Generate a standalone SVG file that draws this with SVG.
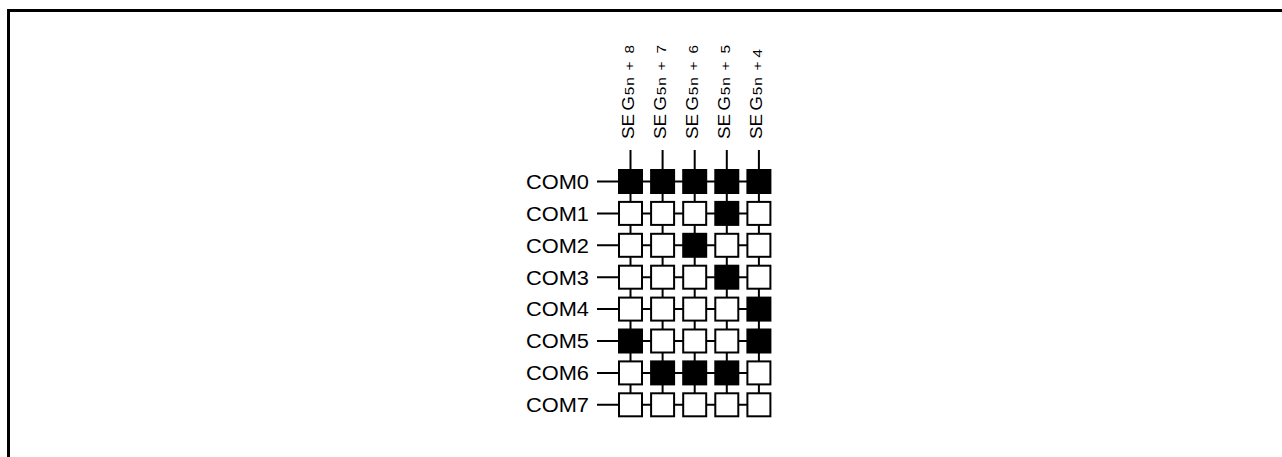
<svg xmlns="http://www.w3.org/2000/svg" width="1282" height="457" viewBox="0 0 1282 457">
<style>
.frame{fill:none;stroke:#000;stroke-width:3}
.wire{stroke:#000;stroke-width:2;fill:none}
.on{fill:#000;stroke:#000;stroke-width:2}
.off{fill:#fff;stroke:#000;stroke-width:2}
.com{font-family:"Liberation Sans",Arial,sans-serif;font-size:20px;fill:#000}
.seg{font-family:"Liberation Sans",Arial,sans-serif;font-size:16px;fill:#000}
.sub{font-size:13px}
</style>
<rect width="1282" height="457" fill="#fff"/>
<polyline class="frame" points="8.5,457 8.5,10.5 1282,10.5"/>
<g id="connectors">
<line class="wire" x1="630.5" y1="150" x2="630.5" y2="405"/>
<line class="wire" x1="662.6" y1="150" x2="662.6" y2="405"/>
<line class="wire" x1="694.7" y1="150" x2="694.7" y2="405"/>
<line class="wire" x1="726.8" y1="150" x2="726.8" y2="405"/>
<line class="wire" x1="758.9" y1="150" x2="758.9" y2="405"/>
<line class="wire" x1="597" y1="181.5" x2="759" y2="181.5"/>
<line class="wire" x1="597" y1="213.4" x2="759" y2="213.4"/>
<line class="wire" x1="597" y1="245.3" x2="759" y2="245.3"/>
<line class="wire" x1="597" y1="277.2" x2="759" y2="277.2"/>
<line class="wire" x1="597" y1="309.1" x2="759" y2="309.1"/>
<line class="wire" x1="597" y1="341" x2="759" y2="341"/>
<line class="wire" x1="597" y1="372.9" x2="759" y2="372.9"/>
<line class="wire" x1="597" y1="404.8" x2="759" y2="404.8"/>
</g>
<g id="seg-labels">
<g id="seg8"><text class="seg" transform="translate(633.5,139) rotate(-90) scale(1.18,1)"><tspan x="0">SE</tspan><tspan x="24">G</tspan><tspan class="sub" x="37" letter-spacing="1">5n </tspan><tspan class="sub" x="58">+ </tspan><tspan class="sub" x="72.5">8</tspan></text></g>
<g id="seg7"><text class="seg" transform="translate(665.6,139) rotate(-90) scale(1.18,1)"><tspan x="0">SE</tspan><tspan x="24">G</tspan><tspan class="sub" x="37" letter-spacing="1">5n </tspan><tspan class="sub" x="58">+ </tspan><tspan class="sub" x="72.5">7</tspan></text></g>
<g id="seg6"><text class="seg" transform="translate(697.7,139) rotate(-90) scale(1.18,1)"><tspan x="0">SE</tspan><tspan x="24">G</tspan><tspan class="sub" x="37" letter-spacing="1">5n </tspan><tspan class="sub" x="58">+ </tspan><tspan class="sub" x="72.5">6</tspan></text></g>
<g id="seg5"><text class="seg" transform="translate(729.8,139) rotate(-90) scale(1.18,1)"><tspan x="0">SE</tspan><tspan x="24">G</tspan><tspan class="sub" x="37" letter-spacing="1">5n </tspan><tspan class="sub" x="58">+ </tspan><tspan class="sub" x="72.5">5</tspan></text></g>
<g id="seg4"><text class="seg" transform="translate(761.9,139) rotate(-90) scale(1.18,1)"><tspan x="0">SE</tspan><tspan x="24">G</tspan><tspan class="sub" x="37" letter-spacing="1">5n </tspan><tspan class="sub" x="58">+</tspan><tspan class="sub" x="69">4</tspan></text></g>
</g>
<g id="com-labels">
<g id="com0"><text class="com" x="526" y="188.8" textLength="63" lengthAdjust="spacingAndGlyphs">COM0</text></g>
<g id="com1"><text class="com" x="526" y="220.7" textLength="63" lengthAdjust="spacingAndGlyphs">COM1</text></g>
<g id="com2"><text class="com" x="526" y="252.6" textLength="63" lengthAdjust="spacingAndGlyphs">COM2</text></g>
<g id="com3"><text class="com" x="526" y="284.5" textLength="63" lengthAdjust="spacingAndGlyphs">COM3</text></g>
<g id="com4"><text class="com" x="526" y="316.4" textLength="63" lengthAdjust="spacingAndGlyphs">COM4</text></g>
<g id="com5"><text class="com" x="526" y="348.3" textLength="63" lengthAdjust="spacingAndGlyphs">COM5</text></g>
<g id="com6"><text class="com" x="526" y="380.2" textLength="63" lengthAdjust="spacingAndGlyphs">COM6</text></g>
<g id="com7"><text class="com" x="526" y="412.1" textLength="63" lengthAdjust="spacingAndGlyphs">COM7</text></g>
</g>
<g id="cells">
<g id="r0">
<rect id="c0-0" class="on" x="619" y="170" width="23" height="23"/>
<rect id="c0-1" class="on" x="651.1" y="170" width="23" height="23"/>
<rect id="c0-2" class="on" x="683.2" y="170" width="23" height="23"/>
<rect id="c0-3" class="on" x="715.3" y="170" width="23" height="23"/>
<rect id="c0-4" class="on" x="747.4" y="170" width="23" height="23"/>
</g>
<g id="r1">
<rect id="c1-0" class="off" x="619" y="201.9" width="23" height="23"/>
<rect id="c1-1" class="off" x="651.1" y="201.9" width="23" height="23"/>
<rect id="c1-2" class="off" x="683.2" y="201.9" width="23" height="23"/>
<rect id="c1-3" class="on" x="715.3" y="201.9" width="23" height="23"/>
<rect id="c1-4" class="off" x="747.4" y="201.9" width="23" height="23"/>
</g>
<g id="r2">
<rect id="c2-0" class="off" x="619" y="233.8" width="23" height="23"/>
<rect id="c2-1" class="off" x="651.1" y="233.8" width="23" height="23"/>
<rect id="c2-2" class="on" x="683.2" y="233.8" width="23" height="23"/>
<rect id="c2-3" class="off" x="715.3" y="233.8" width="23" height="23"/>
<rect id="c2-4" class="off" x="747.4" y="233.8" width="23" height="23"/>
</g>
<g id="r3">
<rect id="c3-0" class="off" x="619" y="265.7" width="23" height="23"/>
<rect id="c3-1" class="off" x="651.1" y="265.7" width="23" height="23"/>
<rect id="c3-2" class="off" x="683.2" y="265.7" width="23" height="23"/>
<rect id="c3-3" class="on" x="715.3" y="265.7" width="23" height="23"/>
<rect id="c3-4" class="off" x="747.4" y="265.7" width="23" height="23"/>
</g>
<g id="r4">
<rect id="c4-0" class="off" x="619" y="297.6" width="23" height="23"/>
<rect id="c4-1" class="off" x="651.1" y="297.6" width="23" height="23"/>
<rect id="c4-2" class="off" x="683.2" y="297.6" width="23" height="23"/>
<rect id="c4-3" class="off" x="715.3" y="297.6" width="23" height="23"/>
<rect id="c4-4" class="on" x="747.4" y="297.6" width="23" height="23"/>
</g>
<g id="r5">
<rect id="c5-0" class="on" x="619" y="329.5" width="23" height="23"/>
<rect id="c5-1" class="off" x="651.1" y="329.5" width="23" height="23"/>
<rect id="c5-2" class="off" x="683.2" y="329.5" width="23" height="23"/>
<rect id="c5-3" class="off" x="715.3" y="329.5" width="23" height="23"/>
<rect id="c5-4" class="on" x="747.4" y="329.5" width="23" height="23"/>
</g>
<g id="r6">
<rect id="c6-0" class="off" x="619" y="361.4" width="23" height="23"/>
<rect id="c6-1" class="on" x="651.1" y="361.4" width="23" height="23"/>
<rect id="c6-2" class="on" x="683.2" y="361.4" width="23" height="23"/>
<rect id="c6-3" class="on" x="715.3" y="361.4" width="23" height="23"/>
<rect id="c6-4" class="off" x="747.4" y="361.4" width="23" height="23"/>
</g>
<g id="r7">
<rect id="c7-0" class="off" x="619" y="393.3" width="23" height="23"/>
<rect id="c7-1" class="off" x="651.1" y="393.3" width="23" height="23"/>
<rect id="c7-2" class="off" x="683.2" y="393.3" width="23" height="23"/>
<rect id="c7-3" class="off" x="715.3" y="393.3" width="23" height="23"/>
<rect id="c7-4" class="off" x="747.4" y="393.3" width="23" height="23"/>
</g>
</g>
</svg>
